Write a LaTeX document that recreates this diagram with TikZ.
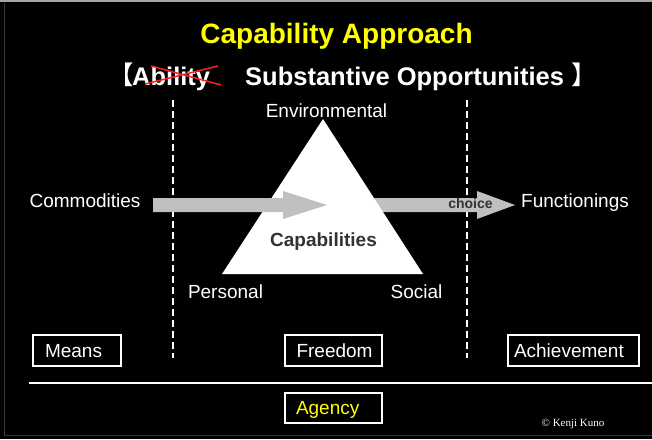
\documentclass[tikz,border=0pt]{standalone}
\usepackage{fontspec}
\setmainfont{Liberation Sans}
\newfontfamily\cjk{Noto Sans CJK JP}
\newfontfamily\tms{Liberation Serif}
\definecolor{arrowgray}{HTML}{C0C0C0}
\definecolor{darktxt}{HTML}{333333}
\definecolor{titleyellow}{HTML}{FFFF00}
\definecolor{crossred}{HTML}{FF2020}
\begin{document}
\begin{tikzpicture}[x=1pt,y=-1pt,
  lbl/.style={text=white,inner sep=0pt,anchor=base,font=\fontsize{19}{22}\selectfont},
  boxed/.style={draw=white,line width=1.3pt,text=white,font=\fontsize{19}{22}\selectfont,
    minimum height=31pt,text height=13.7pt,text depth=0pt,align=left,inner ysep=0pt},
  divider/.style={white,line width=1.4pt,dash pattern=on 7pt off 4pt},
  blockarrow/.style={fill=arrowgray}]
\useasboundingbox (0,0) rectangle (652,439);
\fill[black] (0,0) rectangle (652,439);
\fill[gray!70] (0,0) rectangle (652,2);
\draw[gray!45!black,line width=1pt] (4,3) -- (4,435) -- (653,435);
% title
\node[inner sep=0pt,anchor=base,text=titleyellow,font=\fontsize{28}{32}\selectfont\bfseries] (title) at (336.5,43) {Capability Approach};
% subtitle
\node[inner sep=0pt,anchor=base west,text=white,font=\fontsize{25.5}{30}\selectfont\cjk] (lbr) at (108,84) {【};
\node[inner sep=0pt,anchor=base west,text=white,font=\fontsize{25.5}{30}\selectfont\bfseries] (abil) at (132,85) {Ability};
\node[inner sep=0pt,anchor=base west,text=white,font=\fontsize{25.5}{30}\selectfont\bfseries] (subst) at (245,85) {Substantive Opportunities};
\node[inner sep=0pt,anchor=base west,text=white,font=\fontsize{25.5}{30}\selectfont\cjk] (rbr) at (571,84) {】};
\coordinate (xa1) at (145,84); \coordinate (xa2) at (218,66);
\coordinate (xb1) at (151,66); \coordinate (xb2) at (221,85);
\draw[crossred,line width=1.5pt] (xa1) -- (xa2);
\draw[crossred,line width=1.5pt] (xb1) -- (xb2);
% dividers
\coordinate (d1t) at (173,100); \coordinate (d1b) at (173,358);
\coordinate (d2t) at (467,100); \coordinate (d2b) at (467,358);
\draw[divider] (d1t) -- (d1b);
\draw[divider] (d2t) -- (d2b);
% horizontal rule
\coordinate (hl) at (29,383); \coordinate (hr) at (652,383);
\draw[white,line width=1.3pt] (hl) -- (hr);
% second arrow (behind triangle)
\fill[blockarrow] (345,198) -- (477,198) -- (477,191) -- (515,205) -- (477,219) -- (477,212) -- (345,212) -- cycle;
% triangle
\coordinate (apex) at (323,119); \coordinate (bl) at (222,274); \coordinate (br) at (423,274);
\fill[white] (apex) -- (bl) -- (br) -- cycle;
% first arrow
\fill[blockarrow] (153,198) -- (283,198) -- (283,191) -- (327,205) -- (283,219) -- (283,212) -- (153,212) -- cycle;
% labels
\node[lbl] (comm) at (85,207.7) {Commodities};
\node[lbl] (func) at (575,207.7) {Functionings};
\node[lbl] (env) at (326.5,117) {Environmental};
\node[lbl] (pers) at (225.5,298) {Personal};
\node[lbl] (soc) at (416.5,298) {Social};
\node[lbl,text=darktxt,font=\fontsize{19}{22}\selectfont\bfseries] (cap) at (323.5,246) {Capabilities};
\node[lbl,text=darktxt,font=\fontsize{14}{16}\selectfont\bfseries] (choice) at (470.5,208) {choice};
% boxes
\node[boxed,text width=64pt,inner xsep=12pt] (means) at (77,350.5) {Means};
\node[boxed,text width=74pt,inner xsep=11.5pt] (freedom) at (333.5,350.5) {Freedom};
\node[boxed,text width=119pt,inner xsep=6pt] (achv) at (573.5,350.5) {Achievement};
\node[boxed,text width=75pt,inner xsep=11pt,text=titleyellow,minimum height=30pt] (agency) at (333.5,408) {Agency};
% copyright
\node[inner sep=0pt,anchor=base,text=white,font=\fontsize{11}{13}\selectfont\tms] (copy) at (573,426) {© Kenji Kuno};
\end{tikzpicture}
\end{document}
